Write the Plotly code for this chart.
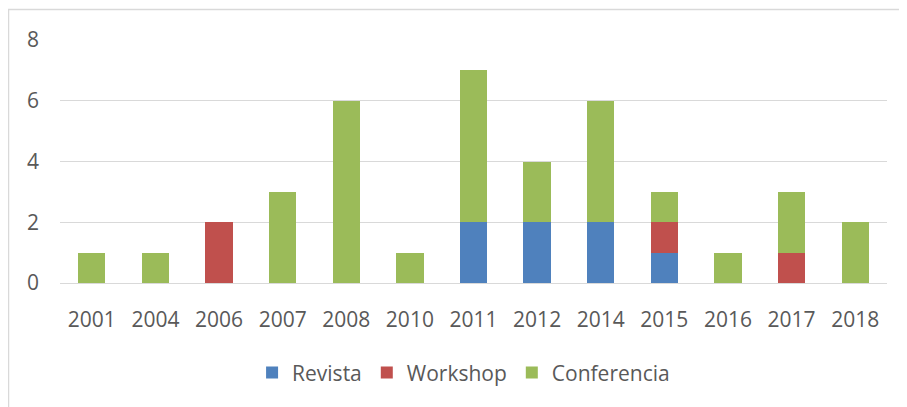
import plotly.graph_objects as go

years = ["2001", "2004", "2006", "2007", "2008", "2010", "2011", "2012", "2014", "2015", "2016", "2017", "2018"]
revista = [0, 0, 0, 0, 0, 0, 2, 2, 2, 1, 0, 0, 0]
workshop = [0, 0, 2, 0, 0, 0, 0, 0, 0, 1, 0, 1, 0]
conferencia = [1, 1, 0, 3, 6, 1, 5, 2, 4, 1, 1, 2, 2]

series = [("Revista", revista, "#4F81BD"),
          ("Workshop", workshop, "#C0504D"),
          ("Conferencia", conferencia, "#9BBB59")]

fig = go.Figure()
for name, vals, col in series:
    fig.add_trace(go.Bar(x=years, y=vals, name=name, marker=dict(color=col, line=dict(width=0))))

txt = "#595959"
fig.update_layout(
    width=907, height=407,
    barmode="stack", bargap=0.57,
    plot_bgcolor="white", paper_bgcolor="white",
    margin=dict(l=52, r=28, t=32, b=132),
    font=dict(family="Open Sans", size=21, color=txt),
    showlegend=True,
    legend=dict(orientation="h", x=0.488, xanchor="center", y=-0.37, yanchor="middle",
                traceorder="normal", itemwidth=30, font=dict(size=21, color=txt)),
    xaxis=dict(type="category", showgrid=False, showline=False, ticks="",
               tickfont=dict(size=21, color=txt), ticklabelstandoff=22),
    yaxis=dict(range=[0, 8], dtick=2, showgrid=True, gridcolor="#D9D9D9", gridwidth=1,
               zeroline=True, zerolinecolor="#D9D9D9", zerolinewidth=1, showline=False,
               ticks="", tickfont=dict(size=21, color=txt), ticklabelstandoff=20),
    shapes=[dict(type="rect", xref="paper", yref="paper",
                 x0=(8.5 - 60) / 827, x1=1.2, y0=-0.7, y1=(283 - 9.5) / 243,
                 line=dict(color="#D9D9D9", width=1.5), fillcolor="rgba(0,0,0,0)", layer="below")],
)

fig.write_html("out.html")
